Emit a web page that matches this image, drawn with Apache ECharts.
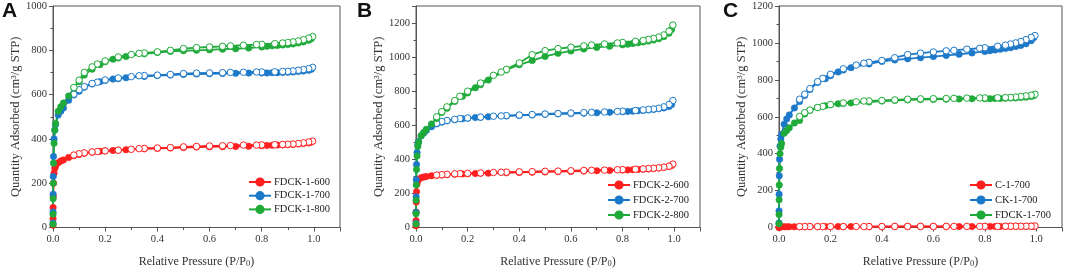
<!DOCTYPE html>
<html>
<head>
<meta charset="utf-8">
<script src="https://cdn.jsdelivr.net/npm/echarts@6/dist/echarts.min.js"></script>
<style>
  html, body { margin: 0; padding: 0; background: #fff; }
  #chart { width: 1065px; height: 273px; }
</style>
</head>
<body>
<div id="chart"></div>
<script>
// relative pressures (P/P0) of the adsorption and desorption branches
var adsP = [0.00005, 0.0002, 0.0005, 0.001, 0.002, 0.004, 0.007, 0.01, 0.02, 0.03, 0.04, 0.06, 0.08, 0.1, 0.12, 0.15, 0.18, 0.2, 0.23, 0.25, 0.28, 0.35, 0.4, 0.45, 0.5, 0.55, 0.6, 0.65, 0.7, 0.75, 0.8, 0.82, 0.84, 0.86, 0.88, 0.9, 0.92, 0.94, 0.96, 0.98, 0.99];
var desP = [0.995, 0.98, 0.96, 0.94, 0.92, 0.9, 0.88, 0.85, 0.8, 0.78, 0.73, 0.68, 0.65, 0.6, 0.55, 0.5, 0.45, 0.4, 0.35, 0.33, 0.3, 0.25, 0.2, 0.17, 0.15, 0.12, 0.1, 0.08];

// panel A
var a600Ads = [10, 40, 90, 140, 200, 245, 268, 278, 292, 300, 305, 316, 324, 330, 335, 340, 344, 346, 348, 349, 351, 355, 357, 359, 361, 363, 364, 365, 366, 367, 369, 370, 371, 372, 373, 374, 375, 377, 379, 382, 386];
var a600Des = [390, 386, 382, 379, 377, 376, 375, 374, 373, 372, 372, 370, 369, 368, 366, 364, 361, 359, 357, 356, 353, 349, 346, 343, 341, 337, 333, 327];
var a700Ads = [20, 70, 150, 230, 320, 400, 440, 465, 508, 525, 540, 574, 598, 615, 633, 648, 658, 664, 670, 672, 676, 682, 686, 688, 691, 693, 694, 695, 696, 697, 698, 698, 699, 699, 700, 701, 702, 704, 706, 710, 714];
var a700Des = [723, 717, 713, 710, 707, 705, 704, 703, 702, 702, 701, 700, 699, 698, 697, 695, 691, 688, 686, 685, 681, 675, 666, 656, 650, 636, 622, 602];
var a800Ads = [15, 60, 130, 200, 290, 380, 440, 470, 525, 545, 562, 594, 630, 658, 688, 715, 735, 748, 760, 765, 772, 784, 790, 795, 798, 800, 802, 805, 807, 810, 815, 818, 820, 822, 824, 826, 829, 833, 838, 845, 852];
var a800Des = [862, 855, 848, 842, 838, 835, 833, 830, 827, 826, 823, 820, 818, 815, 812, 808, 800, 793, 788, 786, 781, 770, 752, 738, 725, 700, 665, 632];

// panel B
var b600Ads = [10, 40, 90, 150, 210, 255, 275, 283, 292, 296, 299, 303, 306, 308, 310, 312, 314, 315, 317, 318, 319, 321, 323, 325, 326, 328, 329, 331, 333, 335, 337, 338, 339, 341, 342, 344, 346, 349, 353, 358, 364];
var b600Des = [372, 360, 354, 350, 348, 346, 344, 342, 340, 339, 337, 336, 335, 333, 331, 330, 328, 327, 325, 324, 323, 320, 318, 316, 315, 312, 310, 308];
var b700Ads = [25, 90, 180, 280, 370, 440, 485, 505, 538, 555, 570, 592, 608, 618, 626, 632, 638, 641, 645, 647, 650, 655, 658, 661, 664, 667, 669, 671, 673, 676, 679, 681, 683, 685, 687, 690, 693, 697, 702, 710, 722];
var b700Des = [745, 722, 708, 700, 696, 693, 690, 687, 683, 681, 678, 676, 674, 672, 669, 666, 663, 660, 657, 655, 653, 648, 643, 639, 635, 628, 622, 612];
var b800Ads = [20, 80, 160, 250, 340, 420, 475, 500, 538, 558, 576, 608, 640, 675, 700, 740, 770, 790, 820, 838, 865, 925, 955, 980, 1004, 1022, 1036, 1048, 1057, 1064, 1072, 1076, 1080, 1084, 1089, 1094, 1100, 1108, 1120, 1140, 1162];
var b800Des = [1188, 1152, 1130, 1118, 1110, 1104, 1098, 1093, 1086, 1083, 1077, 1071, 1066, 1058, 1050, 1038, 1014, 966, 928, 912, 893, 848, 800, 770, 745, 708, 680, 650];

// panel C
var cC1Ads = [1, 2, 2, 3, 3, 3, 4, 4, 4, 4, 4, 4, 4, 5, 5, 5, 5, 5, 5, 5, 5, 5, 5, 5, 5, 5, 5, 5, 5, 5, 6, 6, 6, 6, 6, 6, 6, 6, 6, 7, 7];
var cC1Des = [8, 7, 7, 7, 7, 7, 7, 6, 6, 6, 6, 6, 6, 6, 6, 6, 6, 5, 5, 5, 5, 5, 5, 5, 5, 5, 5, 5];
var cCKAds = [25, 90, 180, 280, 370, 440, 480, 505, 560, 588, 610, 648, 682, 715, 748, 785, 806, 822, 843, 853, 866, 886, 900, 908, 914, 920, 926, 932, 938, 946, 954, 958, 962, 966, 970, 974, 980, 986, 995, 1012, 1028];
var cCKDes = [1040, 1030, 1018, 1008, 1000, 994, 988, 982, 974, 971, 966, 960, 957, 951, 945, 937, 920, 905, 895, 890, 880, 860, 830, 808, 790, 752, 722, 695];
var cFDAds = [20, 70, 150, 230, 320, 400, 435, 455, 510, 525, 540, 566, 580, 615, 635, 650, 660, 665, 670, 672, 675, 680, 685, 688, 691, 693, 694, 695, 696, 697, 698, 698, 699, 699, 700, 701, 702, 704, 706, 710, 714];
var cFDDes = [722, 717, 713, 710, 707, 705, 704, 703, 702, 702, 701, 700, 699, 698, 697, 695, 691, 688, 686, 685, 681, 675, 666, 656, 650, 636, 622, 602];

var RED = '#FF1F1F', BLUE = '#1C78C8', GREEN = '#1FAA3A';
var SERIF = '"Liberation Serif", "Times New Roman", serif';

function pairs(ps, vs) {
  return ps.map(function (p, i) { return [p, vs[i]]; });
}

function branch(name, idx, color, ps, vs, open) {
  return {
    name: name,
    type: 'line',
    xAxisIndex: idx,
    yAxisIndex: idx,
    data: pairs(ps, vs),
    symbol: 'circle',
    symbolSize: 6.5,
    showAllSymbol: true,
    lineStyle: { color: color, width: 1.8 },
    itemStyle: open ? { color: '#fff', borderColor: color, borderWidth: 1 } : { color: color, borderColor: color, borderWidth: 0.5 },
    emphasis: { disabled: true }
  };
}

var grids = [
  { left: 53, right: 725, top: 6, bottom: 39 },
  { left: 416, right: 365, top: 6, bottom: 39 },
  { left: 779, right: 2, top: 6, bottom: 39 }
];
var yMax = [1000, 1300, 1200];

var xAxes = grids.map(function (g, i) {
  return {
    type: 'value', gridIndex: i, min: 0, max: 1.1, interval: 0.2,
    name: 'Relative Pressure (P/P{s|0})', nameLocation: 'middle', nameGap: 28,
    nameTextStyle: { fontFamily: SERIF, fontSize: 12, color: '#333',
      rich: { s: { fontFamily: SERIF, fontSize: 8.5, color: '#333', padding: [0, 0, -4, 0] } } },
    axisLine: { lineStyle: { color: '#555', width: 1 } },
    axisTick: { length: 4, lineStyle: { color: '#555' } },
    minorTick: { show: true, splitNumber: 2, length: 2.5, lineStyle: { color: '#555' } },
    splitLine: { show: false },
    axisLabel: { fontFamily: SERIF, fontSize: 10.5, color: '#333', margin: 6,
      formatter: function (v) { return v > 1.05 ? '' : v.toFixed(1); } }
  };
});

var yAxes = grids.map(function (g, i) {
  return {
    type: 'value', gridIndex: i, min: 0, max: yMax[i], interval: 200,
    name: 'Quantity Adsorbed (cm³/g STP)', nameLocation: 'middle', nameGap: 27,
    nameTextStyle: { fontFamily: SERIF, fontSize: 12.5, color: '#333' },
    axisLine: { show: true, lineStyle: { color: '#555', width: 1 } },
    axisTick: { show: true, length: 4, lineStyle: { color: '#555' } },
    minorTick: { show: true, splitNumber: 2, length: 2.5, lineStyle: { color: '#555' } },
    splitLine: { show: false },
    axisLabel: { fontFamily: SERIF, fontSize: 10.5, color: '#333', margin: 6,
      formatter: function (v) { return v % 200 === 0 ? String(v) : ''; } }
  };
});

// panel C reuses the FDCK-1-700 label, so its series carries a suffix that the legend strips
var series = [
  branch('FDCK-1-600', 0, RED, adsP, a600Ads, false),
  branch('FDCK-1-600 des', 0, RED, desP, a600Des, true),
  branch('FDCK-1-700', 0, BLUE, adsP, a700Ads, false),
  branch('FDCK-1-700 des', 0, BLUE, desP, a700Des, true),
  branch('FDCK-1-800', 0, GREEN, adsP, a800Ads, false),
  branch('FDCK-1-800 des', 0, GREEN, desP, a800Des, true),

  branch('FDCK-2-600', 1, RED, adsP, b600Ads, false),
  branch('FDCK-2-600 des', 1, RED, desP, b600Des, true),
  branch('FDCK-2-700', 1, BLUE, adsP, b700Ads, false),
  branch('FDCK-2-700 des', 1, BLUE, desP, b700Des, true),
  branch('FDCK-2-800', 1, GREEN, adsP, b800Ads, false),
  branch('FDCK-2-800 des', 1, GREEN, desP, b800Des, true),

  branch('C-1-700', 2, RED, adsP, cC1Ads, false),
  branch('C-1-700 des', 2, RED, desP, cC1Des, true),
  branch('CK-1-700', 2, BLUE, adsP, cCKAds, false),
  branch('CK-1-700 des', 2, BLUE, desP, cCKDes, true),
  branch('FDCK-1-700_C', 2, GREEN, adsP, cFDAds, false),
  branch('FDCK-1-700_C des', 2, GREEN, desP, cFDDes, true)
];

function legendAt(names, left, top, gap) {
  return {
    data: names, left: left, top: top, orient: 'vertical',
    itemWidth: 22, itemHeight: 9, itemGap: gap, selectedMode: false, padding: 0,
    formatter: function (n) { return n.replace('_C', ''); },
    textStyle: { fontFamily: SERIF, fontSize: 10.5, lineHeight: 9, color: '#222', padding: [0, 0, 0, -2] }
  };
}

var chart = echarts.init(document.getElementById('chart'));
chart.setOption({
  animation: false,
  backgroundColor: '#fff',
  title: [
    { text: 'A', left: 2, top: 1 },
    { text: 'B', left: 357, top: 1 },
    { text: 'C', left: 723, top: 1 }
  ].map(function (t) {
    t.textStyle = { fontFamily: '"Liberation Sans", Arial, sans-serif', fontWeight: 'bold', fontSize: 21, color: '#111' };
    t.padding = 0;
    return t;
  }),
  grid: grids.map(function (g) {
    g.show = true; g.borderColor = '#555'; g.borderWidth = 1; g.backgroundColor = 'transparent';
    return g;
  }),
  legend: [
    legendAt(['FDCK-1-600', 'FDCK-1-700', 'FDCK-1-800'], 248, 176.5, 2.7),
    legendAt(['FDCK-2-600', 'FDCK-2-700', 'FDCK-2-800'], 607, 179.5, 4),
    legendAt(['C-1-700', 'CK-1-700', 'FDCK-1-700_C'], 969, 179.5, 4)
  ],
  xAxis: xAxes,
  yAxis: yAxes,
  series: series
});
</script>
</body>
</html>
